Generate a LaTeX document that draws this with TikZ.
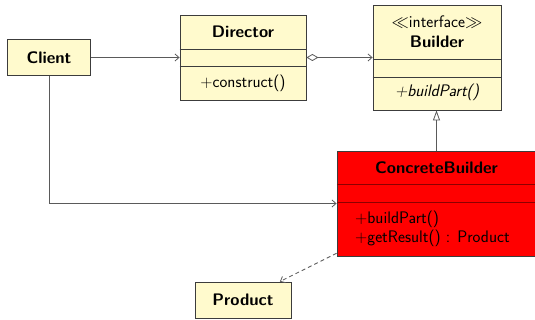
\documentclass[tikz,border=0pt]{standalone}
\usepackage{fontspec}
\usetikzlibrary{arrows.meta}
\definecolor{cls}{HTML}{FFFACD}
\definecolor{ln}{HTML}{5A5A5A}
\definecolor{bd}{HTML}{3C3C3C}
\definecolor{crd}{HTML}{FF0000}
\definecolor{dred}{HTML}{8C0000}
\newcommand{\ttl}{\fontsize{16.7}{19.5}\selectfont\sffamily\bfseries}
\newcommand{\txt}{\fontsize{16.7}{19.5}\selectfont\sffamily}
\begin{document}
\begin{tikzpicture}[x=1pt,y=-1pt,
  box/.style={draw=bd, fill=cls, line width=0.8pt, inner sep=0pt},
  redbox/.style={draw=bd, fill=crd, line width=0.8pt, inner sep=0pt},
  sepline/.style={draw=bd, line width=0.8pt},
  redsep/.style={draw=dred, line width=0.8pt},
  title/.style={font=\ttl, inner sep=0pt},
  member/.style={font=\txt, inner sep=0pt},
  assoc/.style={draw=ln, line width=0.8pt, -{Straight Barb[length=4pt,width=7pt]}},
  aggr/.style={draw=ln, line width=0.8pt, {Diamond[open,length=12pt,width=7pt]}-{Straight Barb[length=4pt,width=7pt]}},
  gen/.style={draw=ln, line width=0.8pt, -{Triangle[open,length=10pt,width=7pt,fill=white]}},
  dep/.style={draw=ln, line width=0.8pt, dashed, dash pattern=on 4pt off 3pt, -{Straight Barb[length=4pt,width=7pt]}}]
\useasboundingbox (0,0) rectangle (535,320);

% Client
\node[box, minimum width=83pt, minimum height=36pt] (client) at (49,57.5) {};
\node[title] (clientT) at (49,57.5) {Client};

% Director
\node[box, minimum width=126pt, minimum height=85pt] (director) at (243,57.5) {};
\draw[sepline] (director.west |- 0,49.3) -- (director.east |- 0,49.3);
\draw[sepline] (director.west |- 0,66) -- (director.east |- 0,66);
\node[title] (directorT) at (243,31.5) {Director};
\node[member] (directorM) at (243,83) {+construct()};

% Builder
\node[box, minimum width=128pt, minimum height=105pt] (builder) at (437,57.5) {};
\draw[sepline] (builder.west |- 0,59.5) -- (builder.east |- 0,59.5);
\draw[sepline] (builder.west |- 0,77) -- (builder.east |- 0,77);
\node[member] (builderS) at (437,21.5) {$\ll$interface$\gg$};
\node[title] (builderT) at (437,42) {Builder};
\node[member] (builderM) at (437,92.5) {\itshape +buildPart()};

% ConcreteBuilder
\node[redbox, minimum width=199pt, minimum height=105pt] (concrete) at (436.5,203.5) {};
\draw[redsep] ([xshift=0.4pt]concrete.west |- 0,184.5) -- ([xshift=-0.4pt]concrete.east |- 0,184.5);
\draw[redsep] ([xshift=0.4pt]concrete.west |- 0,202) -- ([xshift=-0.4pt]concrete.east |- 0,202);
\node[title] (concreteT) at (436.5,167.5) {ConcreteBuilder};
\node[member, anchor=west] (concreteM1) at (355,219) {+buildPart()};
\node[member, anchor=west] (concreteM2) at (355,238.5) {+getResult() : Product};

% Product
\node[box, minimum width=96pt, minimum height=36pt] (product) at (243,300) {};
\node[title] (productT) at (243,300) {Product};

% Connectors
\draw[assoc] (client) -- (director);
\draw[aggr] (director) -- (builder);
\draw[gen] (concrete.north) -- (concrete.north |- builder.south);
\draw[assoc] (client.south) |- (concrete.west);
\draw[dep] (concrete) -- (product);
\end{tikzpicture}
\end{document}
